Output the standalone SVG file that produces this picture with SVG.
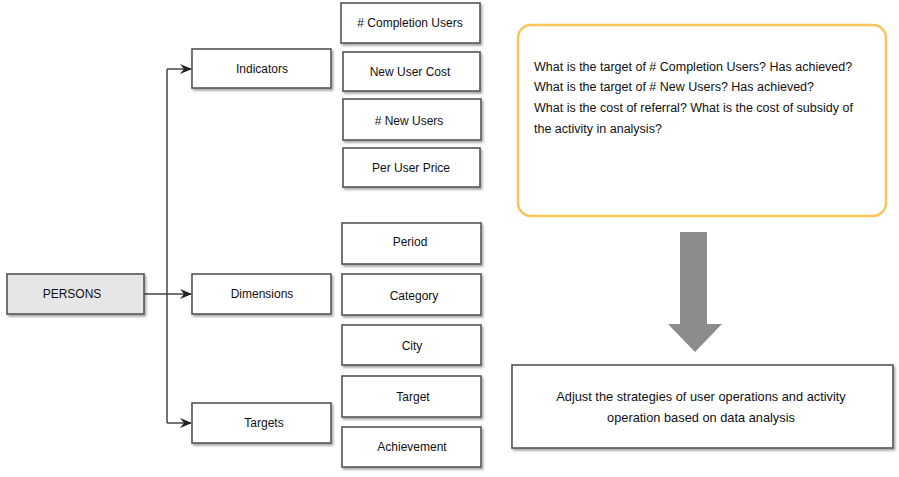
<svg xmlns="http://www.w3.org/2000/svg" width="899" height="477" viewBox="0 0 899 477">
<defs>
<filter id="sh" x="-10%" y="-20%" width="130%" height="150%">
<feDropShadow dx="1.5" dy="2" stdDeviation="1.2" flood-color="#000" flood-opacity="0.35"/>
</filter>
<marker id="ah" markerWidth="12" markerHeight="10" refX="11" refY="5" orient="auto" markerUnits="userSpaceOnUse">
<path d="M0,0 L12,5 L0,10 L4,5 Z" fill="#222"/>
</marker>
<style>
.box{fill:#fff;stroke:#555;stroke-width:1.6;filter:url(#sh)}
.lbl{font-family:"Liberation Sans",Arial,sans-serif;font-size:12px;fill:#111;text-anchor:middle;dominant-baseline:central}
.q{font-family:"Liberation Sans",Arial,sans-serif;font-size:12.5px;fill:#111}
.conn{fill:none;stroke:#444;stroke-width:1.5}
</style>
</defs>
<g id="connectors">
<path class="conn" d="M167,69 L167,423"/>
<path class="conn" d="M167,69 L191,69" marker-end="url(#ah)"/>
<path class="conn" d="M144,294 L191,294" marker-end="url(#ah)"/>
<path class="conn" d="M167,423 L191,423" marker-end="url(#ah)"/>
</g>
<g id="persons"><rect class="box" x="7" y="274" width="137" height="40" style="fill:#e6e6e6"/><text class="lbl" x="72" y="294">PERSONS</text></g>
<g id="indicators"><rect class="box" x="192" y="49" width="139" height="39"/><text class="lbl" x="262" y="68.5">Indicators</text></g>
<g id="dimensions"><rect class="box" x="192" y="274" width="139" height="40"/><text class="lbl" x="262" y="294">Dimensions</text></g>
<g id="targets"><rect class="box" x="192" y="403" width="139" height="40"/><text class="lbl" x="264" y="423">Targets</text></g>
<g id="completion-users"><rect class="box" x="341" y="3" width="139" height="40"/><text class="lbl" x="410" y="23">#&#160;Completion Users</text></g>
<g id="new-user-cost"><rect class="box" x="343" y="52" width="137" height="39"/><text class="lbl" x="410" y="71.5">New User Cost</text></g>
<g id="new-users"><rect class="box" x="343" y="99" width="138" height="41"/><text class="lbl" x="409" y="121">#&#160;New Users</text></g>
<g id="per-user-price"><rect class="box" x="343" y="148" width="137" height="39"/><text class="lbl" x="411" y="167.5">Per User Price</text></g>
<g id="period"><rect class="box" x="342" y="223" width="139" height="41"/><text class="lbl" x="410" y="242">Period</text></g>
<g id="category"><rect class="box" x="342" y="274" width="139" height="41"/><text class="lbl" x="414" y="296">Category</text></g>
<g id="city"><rect class="box" x="342" y="325" width="139" height="40"/><text class="lbl" x="412" y="345.5">City</text></g>
<g id="target"><rect class="box" x="342" y="376" width="139" height="41"/><text class="lbl" x="413" y="397">Target</text></g>
<g id="achievement"><rect class="box" x="342" y="427" width="139" height="40"/><text class="lbl" x="412" y="446.5">Achievement</text></g>
<g id="questions">
<rect x="518" y="25" width="368" height="191" rx="13" fill="#fff" stroke="#f8c55a" stroke-width="2.5"/>
<text class="q" x="534" y="71">What is the target of # Completion Users? Has achieved?</text>
<text class="q" x="534" y="91">What is the target of # New Users? Has achieved?</text>
<text class="q" x="534" y="112">What is the cost of referral? What is the cost of subsidy of</text>
<text class="q" x="534" y="133">the activity in analysis?</text>
</g>
<g id="big-arrow"><path d="M680,232 L707,232 L707,324 L722,324 L695,352 L668,324 L680,324 Z" fill="#8c8c8c"/></g>
<g id="adjust">
<rect class="box" x="512" y="365" width="381" height="83"/>
<text class="lbl" x="701" y="396" style="font-size:12.8px">Adjust the strategies of user operations  and activity</text>
<text class="lbl" x="701" y="417" style="font-size:12.8px">operation based on data analysis</text>
</g>
</svg>
